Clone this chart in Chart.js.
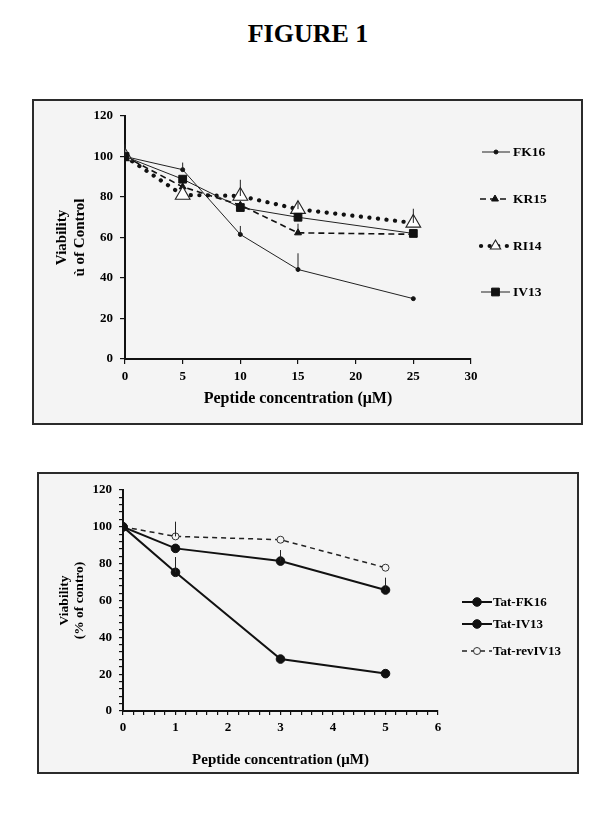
<!DOCTYPE html>
<html><head><meta charset="utf-8">
<script src="https://cdn.jsdelivr.net/npm/chart.js@4.4.1/dist/chart.umd.min.js"></script>
<style>
body{margin:0;background:#fff;width:616px;height:822px;position:relative;overflow:hidden;font-family:"Liberation Serif","Times New Roman",serif;}
#title{position:absolute;left:0;width:616px;top:18px;text-align:center;font-weight:bold;font-size:26px;line-height:32px;color:#000;}
.box{position:absolute;box-sizing:border-box;border:2px solid #2b2b2b;background:#f4f4f4;}
canvas{position:absolute;}
</style></head><body>
<div id="title">FIGURE 1</div>
<div class="box" style="left:32px;top:99px;width:551px;height:326px"></div>
<canvas id="c1" width="549" height="324" style="left:33px;top:100px;width:549px;height:324px"></canvas>
<div class="box" style="left:37px;top:472px;width:542px;height:302px"></div>
<canvas id="c2" width="540" height="300" style="left:38px;top:473px;width:540px;height:300px"></canvas>
<script>
// ---- Top chart data ----
const topConc = [0, 5, 10, 15, 25];
const topLabels = ['FK16', 'KR15', 'RI14', 'IV13'];
const FK16 = [100, 93.5, 61.5, 44.2, 29.8];
const FK16Err = [6, 3.5, 4.2, 8, 0];
const KR15 = [100, 85, 76, 62.3, 61.6];
const KR15Err = [0, 0, 0, 4.5, 0];
const RI14 = [100, 81, 80.5, 74, 67.2];
const RI14Err = [0, 0, 8, 4, 7];
const IV13 = [100, 88.8, 74.8, 70, 62];
const IV13Err = [0, 0, 0, 0, 0];

// ---- Bottom chart data ----
const botConc = [0, 1, 3, 5];
const botLabels = ['Tat-FK16', 'Tat-IV13', 'Tat-revIV13'];
const TatFK16 = [100, 75.3, 28.2, 20.3];
const TatFK16Err = [0, 8.3, 0, 0];
const TatIV13 = [100, 88.3, 81.4, 65.7];
const TatIV13Err = [0, 0, 6, 6.7];
const TatRevIV13 = [100, 94.8, 93, 77.8];
const TatRevIV13Err = [0, 8, 0, 0];

const SERIF = '"Liberation Serif","Times New Roman",serif';
const pts = (xs, ys) => xs.map((x, i) => ({x: x, y: ys[i]}));

function drawMarker(ctx, ds, x, y, scale) {
  ctx.save();
  ctx.fillStyle = ds.pointBackgroundColor;
  ctx.strokeStyle = ds.pointBorderColor;
  ctx.lineWidth = ds.pointBorderWidth;
  ctx.setLineDash([]);
  const r = ds.pointRadius * (scale || 1);
  if (Chart.helpers && Chart.helpers.drawPoint) {
    Chart.helpers.drawPoint(ctx, {pointStyle: ds.pointStyle, radius: r, borderWidth: ds.pointBorderWidth, rotation: 0}, x, y);
  } else {
    ctx.beginPath(); ctx.arc(x, y, r, 0, Math.PI * 2); ctx.fill(); ctx.stroke();
  }
  ctx.restore();
}

const errorBarPlugin = {
  id: 'errbars',
  afterDatasetsDraw(chart) {
    const ctx = chart.ctx, xs = chart.scales.x, ys = chart.scales.y;
    ctx.save();
    ctx.strokeStyle = '#222';
    ctx.lineWidth = 1;
    chart.data.datasets.forEach(ds => {
      (ds.errors || []).forEach((e, i) => {
        if (!e) return;
        const p = ds.data[i];
        const px = xs.getPixelForValue(p.x);
        ctx.beginPath();
        ctx.moveTo(px, ys.getPixelForValue(p.y));
        ctx.lineTo(px, ys.getPixelForValue(p.y + e));
        ctx.stroke();
      });
    });
    ctx.restore();
  }
};

const legendPlugin = {
  id: 'customLegend',
  afterDraw(chart, args, opts) {
    const ctx = chart.ctx;
    (opts.items || []).forEach(it => {
      const ds = chart.data.datasets[it.index];
      ctx.save();
      ctx.strokeStyle = ds.borderColor;
      ctx.lineWidth = ds.borderWidth;
      ctx.lineCap = ds.borderCapStyle || 'butt';
      ctx.setLineDash(ds.borderDash || []);
      ctx.beginPath();
      ctx.moveTo(it.x0, it.y);
      ctx.lineTo(it.x1, it.y);
      ctx.stroke();
      ctx.restore();
      drawMarker(ctx, ds, (it.x0 + it.x1) / 2, it.y, it.ms);
      ctx.save();
      ctx.fillStyle = '#000';
      ctx.font = 'bold ' + opts.fontSize + 'px ' + SERIF;
      ctx.textBaseline = 'middle';
      ctx.textAlign = 'left';
      ctx.fillText(ds.label, it.tx, it.y + 1);
      ctx.restore();
    });
  }
};

function axisCommon(min, max, step, tickLen, labelFn, padding) {
  return {
    type: 'linear', min: min, max: max,
    ticks: {
      stepSize: step, autoSkip: false, maxRotation: 0, minRotation: 0,
      color: '#000', padding: padding,
      font: {family: SERIF, size: 13, weight: 'bold'},
      callback: labelFn
    },
    grid: {drawOnChartArea: false, drawTicks: true, tickLength: tickLen, color: '#111', lineWidth: 1.2},
    border: {color: '#111', width: 2}
  };
}

// ---- Top chart ----
const topX = axisCommon(0, 30, 5, 5, v => String(v), 5);
topX.title = {display: true, text: 'Peptide concentration (μM)', color: '#000',
  font: {family: SERIF, size: 16, weight: 'bold', lineHeight: 1.2}, padding: {top: 16, bottom: 16}};
topX.afterFit = s => { s.height = 65; };
const topY = axisCommon(0, 120, 20, 5, v => String(v), 7);
topY.title = {display: true, text: ['Viability', 'ù of Control'], color: '#000',
  font: {family: SERIF, size: 15, weight: 'bold', lineHeight: 1.2}, padding: {top: 20, bottom: 0}};
topY.afterFit = s => { s.width = 92; };

new Chart(document.getElementById('c1'), {
  type: 'line',
  data: {
    datasets: [
      {label: topLabels[0], data: pts(topConc, FK16), errors: FK16Err, borderColor: '#222', borderWidth: 1,
       pointStyle: 'circle', pointRadius: 2, pointBackgroundColor: '#111', pointBorderColor: '#111', pointBorderWidth: 1, order: 4},
      {label: topLabels[1], data: pts(topConc, KR15), errors: KR15Err, borderColor: '#111', borderWidth: 1.6, borderDash: [6, 4],
       pointStyle: 'triangle', pointRadius: 4, pointBackgroundColor: '#111', pointBorderColor: '#111', pointBorderWidth: 1, order: 3},
      {label: topLabels[2], data: pts(topConc, RI14), errors: RI14Err, borderColor: '#111', borderWidth: 4.2, borderDash: [0.1, 8.5], borderCapStyle: 'round',
       pointStyle: 'triangle', pointRadius: 8.5, pointBackgroundColor: '#fff', pointBorderColor: '#222', pointBorderWidth: 1.1, order: 2},
      {label: topLabels[3], data: pts(topConc, IV13), errors: IV13Err, borderColor: '#222', borderWidth: 1,
       pointStyle: 'rect', pointRadius: 5.5, pointBackgroundColor: '#111', pointBorderColor: '#111', pointBorderWidth: 1, order: 1}
    ]
  },
  options: {
    responsive: false, animation: false,
    layout: {padding: {top: 16, right: 111, left: 0, bottom: 0}},
    elements: {line: {tension: 0, fill: false}},
    scales: {x: topX, y: topY},
    plugins: {
      legend: {display: false}, tooltip: {enabled: false},
      customLegend: {fontSize: 13.5, items: [
        {index: 0, x0: 449, x1: 477, y: 52, tx: 480},
        {index: 1, x0: 447, x1: 477, y: 99, tx: 480},
        {index: 2, x0: 448, x1: 477, y: 146, tx: 480, ms: 0.7},
        {index: 3, x0: 448, x1: 477, y: 192, tx: 480}
      ]}
    }
  },
  plugins: [errorBarPlugin, legendPlugin]
});

// ---- Bottom chart ----
const isWhole = v => Math.abs(v - Math.round(v)) < 1e-6;
const botX = axisCommon(0, 6, 0.2, 4, v => isWhole(v) ? String(Math.round(v)) : '', 5);
botX.title = {display: true, text: 'Peptide concentration (μM)', color: '#000',
  font: {family: SERIF, size: 15, weight: 'bold', lineHeight: 1.2}, padding: {top: 4, bottom: 4}};
botX.afterFit = s => { s.height = 62; };
const botY = axisCommon(0, 120, 4, 4, v => (Math.round(v) % 20 === 0) ? String(Math.round(v)) : '', 7);
botY.title = {display: true, text: ['Viability', '(% of contro)'], color: '#000',
  font: {family: SERIF, size: 13.5, weight: 'bold', lineHeight: 1.1}, padding: {top: 19.5, bottom: 0}};
botY.afterFit = s => { s.width = 85; };

new Chart(document.getElementById('c2'), {
  type: 'line',
  data: {
    datasets: [
      {label: botLabels[0], data: pts(botConc, TatFK16), errors: TatFK16Err, borderColor: '#111', borderWidth: 2,
       pointStyle: 'circle', pointRadius: 4.3, pointBackgroundColor: '#111', pointBorderColor: '#111', pointBorderWidth: 1, order: 2},
      {label: botLabels[1], data: pts(botConc, TatIV13), errors: TatIV13Err, borderColor: '#111', borderWidth: 2,
       pointStyle: 'circle', pointRadius: 4.3, pointBackgroundColor: '#111', pointBorderColor: '#111', pointBorderWidth: 1, order: 1},
      {label: botLabels[2], data: pts(botConc, TatRevIV13), errors: TatRevIV13Err, borderColor: '#222', borderWidth: 1.5, borderDash: [5, 4],
       pointStyle: 'circle', pointRadius: 3.5, pointBackgroundColor: '#f4f4f4', pointBorderColor: '#333', pointBorderWidth: 1, order: 3}
    ]
  },
  options: {
    responsive: false, animation: false,
    layout: {padding: {top: 17, right: 140, left: 0, bottom: 0}},
    elements: {line: {tension: 0, fill: false}},
    scales: {x: botX, y: botY},
    plugins: {
      legend: {display: false}, tooltip: {enabled: false},
      customLegend: {fontSize: 13, items: [
        {index: 0, x0: 424, x1: 454, y: 129, tx: 455},
        {index: 1, x0: 424, x1: 454, y: 151, tx: 455},
        {index: 2, x0: 424, x1: 454, y: 178, tx: 455}
      ]}
    }
  },
  plugins: [errorBarPlugin, legendPlugin]
});
</script>
</body></html>
